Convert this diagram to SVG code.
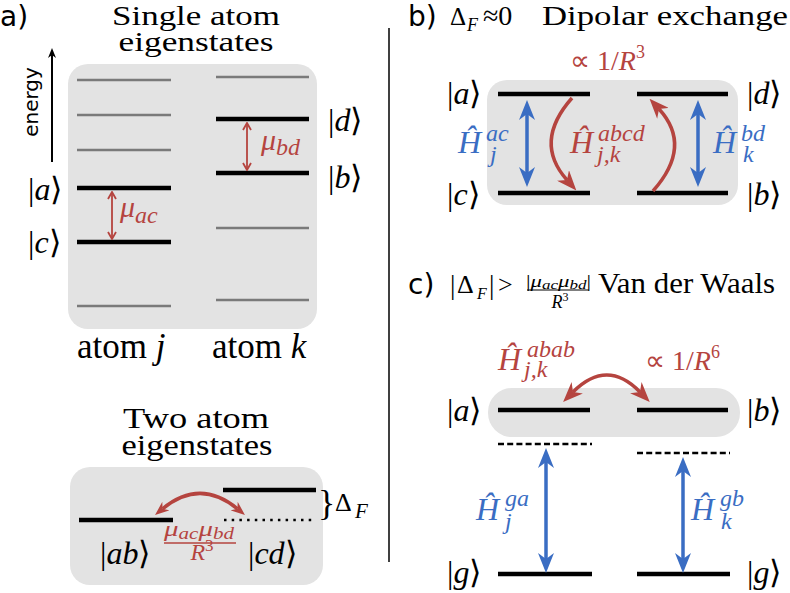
<svg xmlns="http://www.w3.org/2000/svg" width="790" height="593" viewBox="0 0 790 593">
<style>
.t{font-family:"Liberation Serif",serif}
.sans{font-family:"DejaVu Sans",sans-serif}
.i{font-style:italic}
.n{font-style:normal}
.k{font-size:32px}
.red{fill:#b5443f}
.blue{fill:#3a6dc3}
.box{fill:#e3e3e3}
.lv{stroke:#000;stroke-width:4.5}
.gl{stroke:#7a7a7a;stroke-width:2.5}
.ra{stroke:#b5443f;fill:none;stroke-width:3.5}
.ba{stroke:#3a6dc3;fill:none;stroke-width:3.5}
.h{font-size:32px;font-style:italic}
.sc{font-size:24px;font-style:italic}
</style>
<defs>
<marker id="hr" markerUnits="userSpaceOnUse" viewBox="0 0 20 16" markerWidth="20" markerHeight="16" refX="6" refY="8" orient="auto-start-reverse"><path d="M0,0 L20,8 L0,16 L6,8 Z" fill="#b5443f"/></marker>
<marker id="hrs" markerUnits="userSpaceOnUse" viewBox="0 0 20 16" markerWidth="14" markerHeight="11.2" refX="6" refY="8" orient="auto-start-reverse"><path d="M0,0 L20,8 L0,16 L6,8 Z" fill="#b5443f"/></marker>
<marker id="hb" markerUnits="userSpaceOnUse" viewBox="0 0 20 16" markerWidth="20" markerHeight="16" refX="6" refY="8" orient="auto-start-reverse"><path d="M0,0 L20,8 L0,16 L6,8 Z" fill="#3a6dc3"/></marker>
<marker id="hk" markerUnits="userSpaceOnUse" viewBox="0 0 10 8" markerWidth="10" markerHeight="8" refX="3" refY="4" orient="auto"><path d="M0,0 L10,4 L0,8 L3,4 Z" fill="#000"/></marker>
<marker id="hc" markerUnits="userSpaceOnUse" viewBox="0 0 10 10" markerWidth="10" markerHeight="10" refX="9" refY="5" orient="auto-start-reverse"><path d="M2,1 L9,5 L2,9" fill="none" stroke="#b5443f" stroke-width="1.8"/></marker>
</defs>

<!-- Panel a -->
<g id="panel-a-title">
<text class="sans" x="0" y="26" font-size="28">a)</text>
<text class="t" x="196" y="25" font-size="28" text-anchor="middle" textLength="168" lengthAdjust="spacingAndGlyphs">Single atom</text>
<text class="t" x="196" y="51" font-size="28" text-anchor="middle" textLength="155" lengthAdjust="spacingAndGlyphs">eigenstates</text>
</g>
<g id="energy-axis">
<line x1="52" y1="162" x2="52" y2="55" stroke="#000" stroke-width="2" marker-end="url(#hk)"/>
<text class="sans" font-size="20" text-anchor="middle" transform="translate(38,102) rotate(-90)">energy</text>
</g>
<g id="single-atom-box">
<rect class="box" x="68" y="64" width="249" height="265" rx="20"/>
</g>
<g id="atom-j-levels">
<line class="gl" x1="77" y1="80" x2="171" y2="80"/>
<line class="gl" x1="77" y1="115" x2="171" y2="115"/>
<line class="gl" x1="77" y1="150" x2="171" y2="150"/>
<line class="gl" x1="77" y1="306" x2="171" y2="306"/>
</g>
<g id="level-a"><line class="lv" x1="77" y1="188" x2="171" y2="188"/><text class="t k" x="28" y="200">|<tspan class="t i">a</tspan>⟩</text></g>
<g id="level-c"><line class="lv" x1="77" y1="242" x2="171" y2="242"/><text class="t k" x="28" y="253">|<tspan class="t i">c</tspan>⟩</text></g>
<g id="atom-k-levels">
<line class="gl" x1="216" y1="77" x2="309" y2="77"/>
<line class="gl" x1="216" y1="228" x2="309" y2="228"/>
<line class="gl" x1="216" y1="300" x2="309" y2="300"/>
</g>
<g id="level-d"><line class="lv" x1="216" y1="119" x2="309" y2="119"/><text class="t k" x="328" y="131">|<tspan class="t i">d</tspan>⟩</text></g>
<g id="level-b"><line class="lv" x1="216" y1="173" x2="309" y2="173"/><text class="t k" x="328" y="188">|<tspan class="t i">b</tspan>⟩</text></g>
<g id="label-mu-ac"><text class="t red i" x="120" y="217" font-size="30">μ<tspan class="t" font-size="24" dy="6">ac</tspan></text></g>
<g id="label-mu-bd"><text class="t red i" x="261" y="150" font-size="30">μ<tspan class="t" font-size="24" dy="5">bd</tspan></text></g>
<g id="atom-labels">
<text class="t" x="77" y="358" font-size="35">atom <tspan class="t i">j</tspan></text>
<text class="t" x="212" y="358" font-size="35">atom <tspan class="t i">k</tspan></text>
</g>

<!-- Panel a bottom -->
<g id="two-atom-title">
<text class="t" x="196" y="428" font-size="29" text-anchor="middle" textLength="146" lengthAdjust="spacingAndGlyphs">Two atom</text>
<text class="t" x="197" y="455" font-size="29" text-anchor="middle" textLength="151" lengthAdjust="spacingAndGlyphs">eigenstates</text>
</g>
<g id="two-atom-box"><rect class="box" x="70" y="467" width="253" height="118" rx="20"/></g>
<g id="level-ab"><line class="lv" x1="79" y1="520" x2="173" y2="520"/><text class="t k" x="100" y="564">|<tspan class="t i">ab</tspan>⟩</text></g>
<g id="level-cd"><line class="lv" x1="223" y1="490" x2="316" y2="490"/><line x1="224" y1="520" x2="316" y2="520" stroke="#000" stroke-width="2.5" stroke-dasharray="2.5 5.2"/><text class="t k" x="248" y="564">|<tspan class="t i">cd</tspan>⟩</text></g>
<g id="delta-f">
<text class="t" x="318" y="515" font-size="36">}</text>
<text class="t" x="335" y="511" font-size="26">Δ</text>
<text class="t i" x="355" y="518" font-size="21">F</text>
</g>
<g id="frac-a">
<text class="t red i" x="164" y="536" font-size="22" textLength="70" lengthAdjust="spacingAndGlyphs">μ<tspan class="t" font-size="16" dy="3">ac</tspan><tspan class="t" dy="-3">μ</tspan><tspan class="t" font-size="16" dy="3">bd</tspan></text>
<line x1="164" y1="543" x2="236" y2="543" stroke="#b5443f" stroke-width="1.5"/>
<text class="t red" x="202" y="560" font-size="24" text-anchor="middle"><tspan class="t i">R</tspan><tspan class="t" font-size="17" dy="-9">3</tspan></text>
</g>

<!-- divider -->
<line x1="389" y1="28" x2="389" y2="562" stroke="#000" stroke-width="1.5"/>

<!-- Panel b -->
<g id="panel-b-title">
<text class="sans" x="408" y="26" font-size="28">b)</text>
<text class="t" x="450" y="25" font-size="25">Δ</text>
<text class="t i" x="467" y="31" font-size="18">F</text>
<text class="t" x="483" y="25" font-size="28">≈0</text>
<text class="t" x="542" y="25" font-size="28" textLength="246" lengthAdjust="spacingAndGlyphs">Dipolar exchange</text>
</g>
<g id="box-b"><rect class="box" x="487" y="80" width="251" height="125" rx="20"/></g>
<g id="b-level-a"><line class="lv" x1="498" y1="94" x2="590" y2="94"/><text class="t k" x="447" y="104">|<tspan class="t i">a</tspan>⟩</text></g>
<g id="b-level-c"><line class="lv" x1="498" y1="193" x2="590" y2="193"/><text class="t k" x="447" y="205">|<tspan class="t i">c</tspan>⟩</text></g>
<g id="b-level-d"><line class="lv" x1="637" y1="94" x2="728" y2="94"/><text class="t k" x="747" y="104">|<tspan class="t i">d</tspan>⟩</text></g>
<g id="b-level-b"><line class="lv" x1="637" y1="193" x2="728" y2="193"/><text class="t k" x="747" y="205">|<tspan class="t i">b</tspan>⟩</text></g>
<g id="label-Hac">
<text class="t h blue" x="458" y="153">Ĥ</text><text class="t sc blue" x="486" y="141">ac</text><text class="t sc blue" x="490" y="162">j</text>
</g>
<g id="label-Habcd">
<text class="t h red" x="570" y="153">Ĥ</text><text class="t sc red" x="598" y="141">abcd</text><text class="t sc red" x="597" y="162">j,k</text>
</g>
<g id="label-Hbd">
<text class="t h blue" x="713" y="153">Ĥ</text><text class="t sc blue" x="741" y="141">bd</text><text class="t sc blue" x="743" y="162">k</text>
</g>
<g id="label-R3"><text class="t red" x="570" y="70" font-size="28">∝ 1/<tspan class="t i">R</tspan><tspan class="t" font-size="18" dy="-12">3</tspan></text></g>

<!-- Panel c -->
<g id="panel-c-title">
<text class="sans" x="408" y="294" font-size="28">c)</text>
<text class="t" x="450" y="294" font-size="27">|</text>
<text class="t" x="457" y="293" font-size="26">Δ</text>
<text class="t i" x="477" y="299" font-size="16">F</text>
<text class="t" x="489" y="294" font-size="27">|</text>
<text class="t" x="498" y="293" font-size="26">&gt;</text>
<text class="t i" x="526" y="287" font-size="16" textLength="65" lengthAdjust="spacingAndGlyphs"><tspan class="t n">|</tspan>μ<tspan class="t" font-size="12" dy="2">ac</tspan><tspan class="t" dy="-2">μ</tspan><tspan class="t" font-size="12" dy="2">bd</tspan><tspan class="t n" dy="-2">|</tspan></text>
<line x1="527" y1="290" x2="589" y2="290" stroke="#000" stroke-width="1"/>
<text class="t" x="560" y="308" font-size="18" text-anchor="middle"><tspan class="t i">R</tspan><tspan class="t" font-size="12" dy="-7">3</tspan></text>
<text class="t" x="598" y="293" font-size="29" textLength="177" lengthAdjust="spacingAndGlyphs">Van der Waals</text>
</g>
<g id="box-c"><rect class="box" x="488" y="388" width="252" height="49" rx="24"/></g>
<g id="c-level-a"><line class="lv" x1="498" y1="410" x2="590" y2="410"/><text class="t k" x="447" y="421">|<tspan class="t i">a</tspan>⟩</text></g>
<g id="c-level-b"><line class="lv" x1="637" y1="410" x2="728" y2="410"/><text class="t k" x="747" y="421">|<tspan class="t i">b</tspan>⟩</text></g>
<g id="c-virtual-a"><line x1="498" y1="444" x2="592" y2="444" stroke="#000" stroke-width="2.5" stroke-dasharray="6 3.2"/></g>
<g id="c-virtual-b"><line x1="637" y1="453" x2="730" y2="453" stroke="#000" stroke-width="2.5" stroke-dasharray="6 3.2"/></g>
<g id="c-level-g1"><line class="lv" x1="498" y1="574" x2="592" y2="574"/><text class="t k" x="447" y="583">|<tspan class="t i">g</tspan>⟩</text></g>
<g id="c-level-g2"><line class="lv" x1="637" y1="574" x2="730" y2="574"/><text class="t k" x="747" y="583">|<tspan class="t i">g</tspan>⟩</text></g>
<g id="label-Habab">
<text class="t h red" x="498" y="370">Ĥ</text><text class="t sc red" x="527" y="357">abab</text><text class="t sc red" x="524" y="377">j,k</text>
</g>
<g id="label-R6"><text class="t red" x="645" y="370" font-size="28">∝ 1/<tspan class="t i">R</tspan><tspan class="t" font-size="18" dy="-12">6</tspan></text></g>
<g id="label-Hga">
<text class="t h blue" x="476" y="520">Ĥ</text><text class="t sc blue" x="505" y="506">ga</text><text class="t sc blue" x="505" y="529">j</text>
</g>
<g id="label-Hgb">
<text class="t h blue" x="691" y="520">Ĥ</text><text class="t sc blue" x="720" y="506">gb</text><text class="t sc blue" x="721" y="529">k</text>
</g>

<!-- connectors -->
<g id="connectors">
<line x1="112" y1="192" x2="112" y2="239" stroke="#b5443f" stroke-width="1.8" marker-start="url(#hc)" marker-end="url(#hc)"/>
<line x1="247" y1="123" x2="247" y2="170" stroke="#b5443f" stroke-width="1.8" marker-start="url(#hc)" marker-end="url(#hc)"/>
<path class="ra" d="M162.6,508.8 Q200,478 237.4,508.8" stroke-width="2.5" marker-start="url(#hrs)" marker-end="url(#hrs)"/>
<line class="ba" x1="527" y1="114" x2="527" y2="173" marker-start="url(#hb)" marker-end="url(#hb)"/>
<line class="ba" x1="698" y1="114" x2="698" y2="173" marker-start="url(#hb)" marker-end="url(#hb)"/>
<path class="ra" d="M572,98 Q533,142 567,180" marker-end="url(#hr)"/>
<path class="ra" d="M653,191 Q693,146 659,109" marker-end="url(#hr)"/>
<path class="ra" d="M573,392 Q607,358 640,392" marker-start="url(#hr)" marker-end="url(#hr)"/>
<line class="ba" x1="546" y1="462" x2="546" y2="559" marker-start="url(#hb)" marker-end="url(#hb)"/>
<line class="ba" x1="683" y1="471" x2="683" y2="559" marker-start="url(#hb)" marker-end="url(#hb)"/>
</g>
</svg>
